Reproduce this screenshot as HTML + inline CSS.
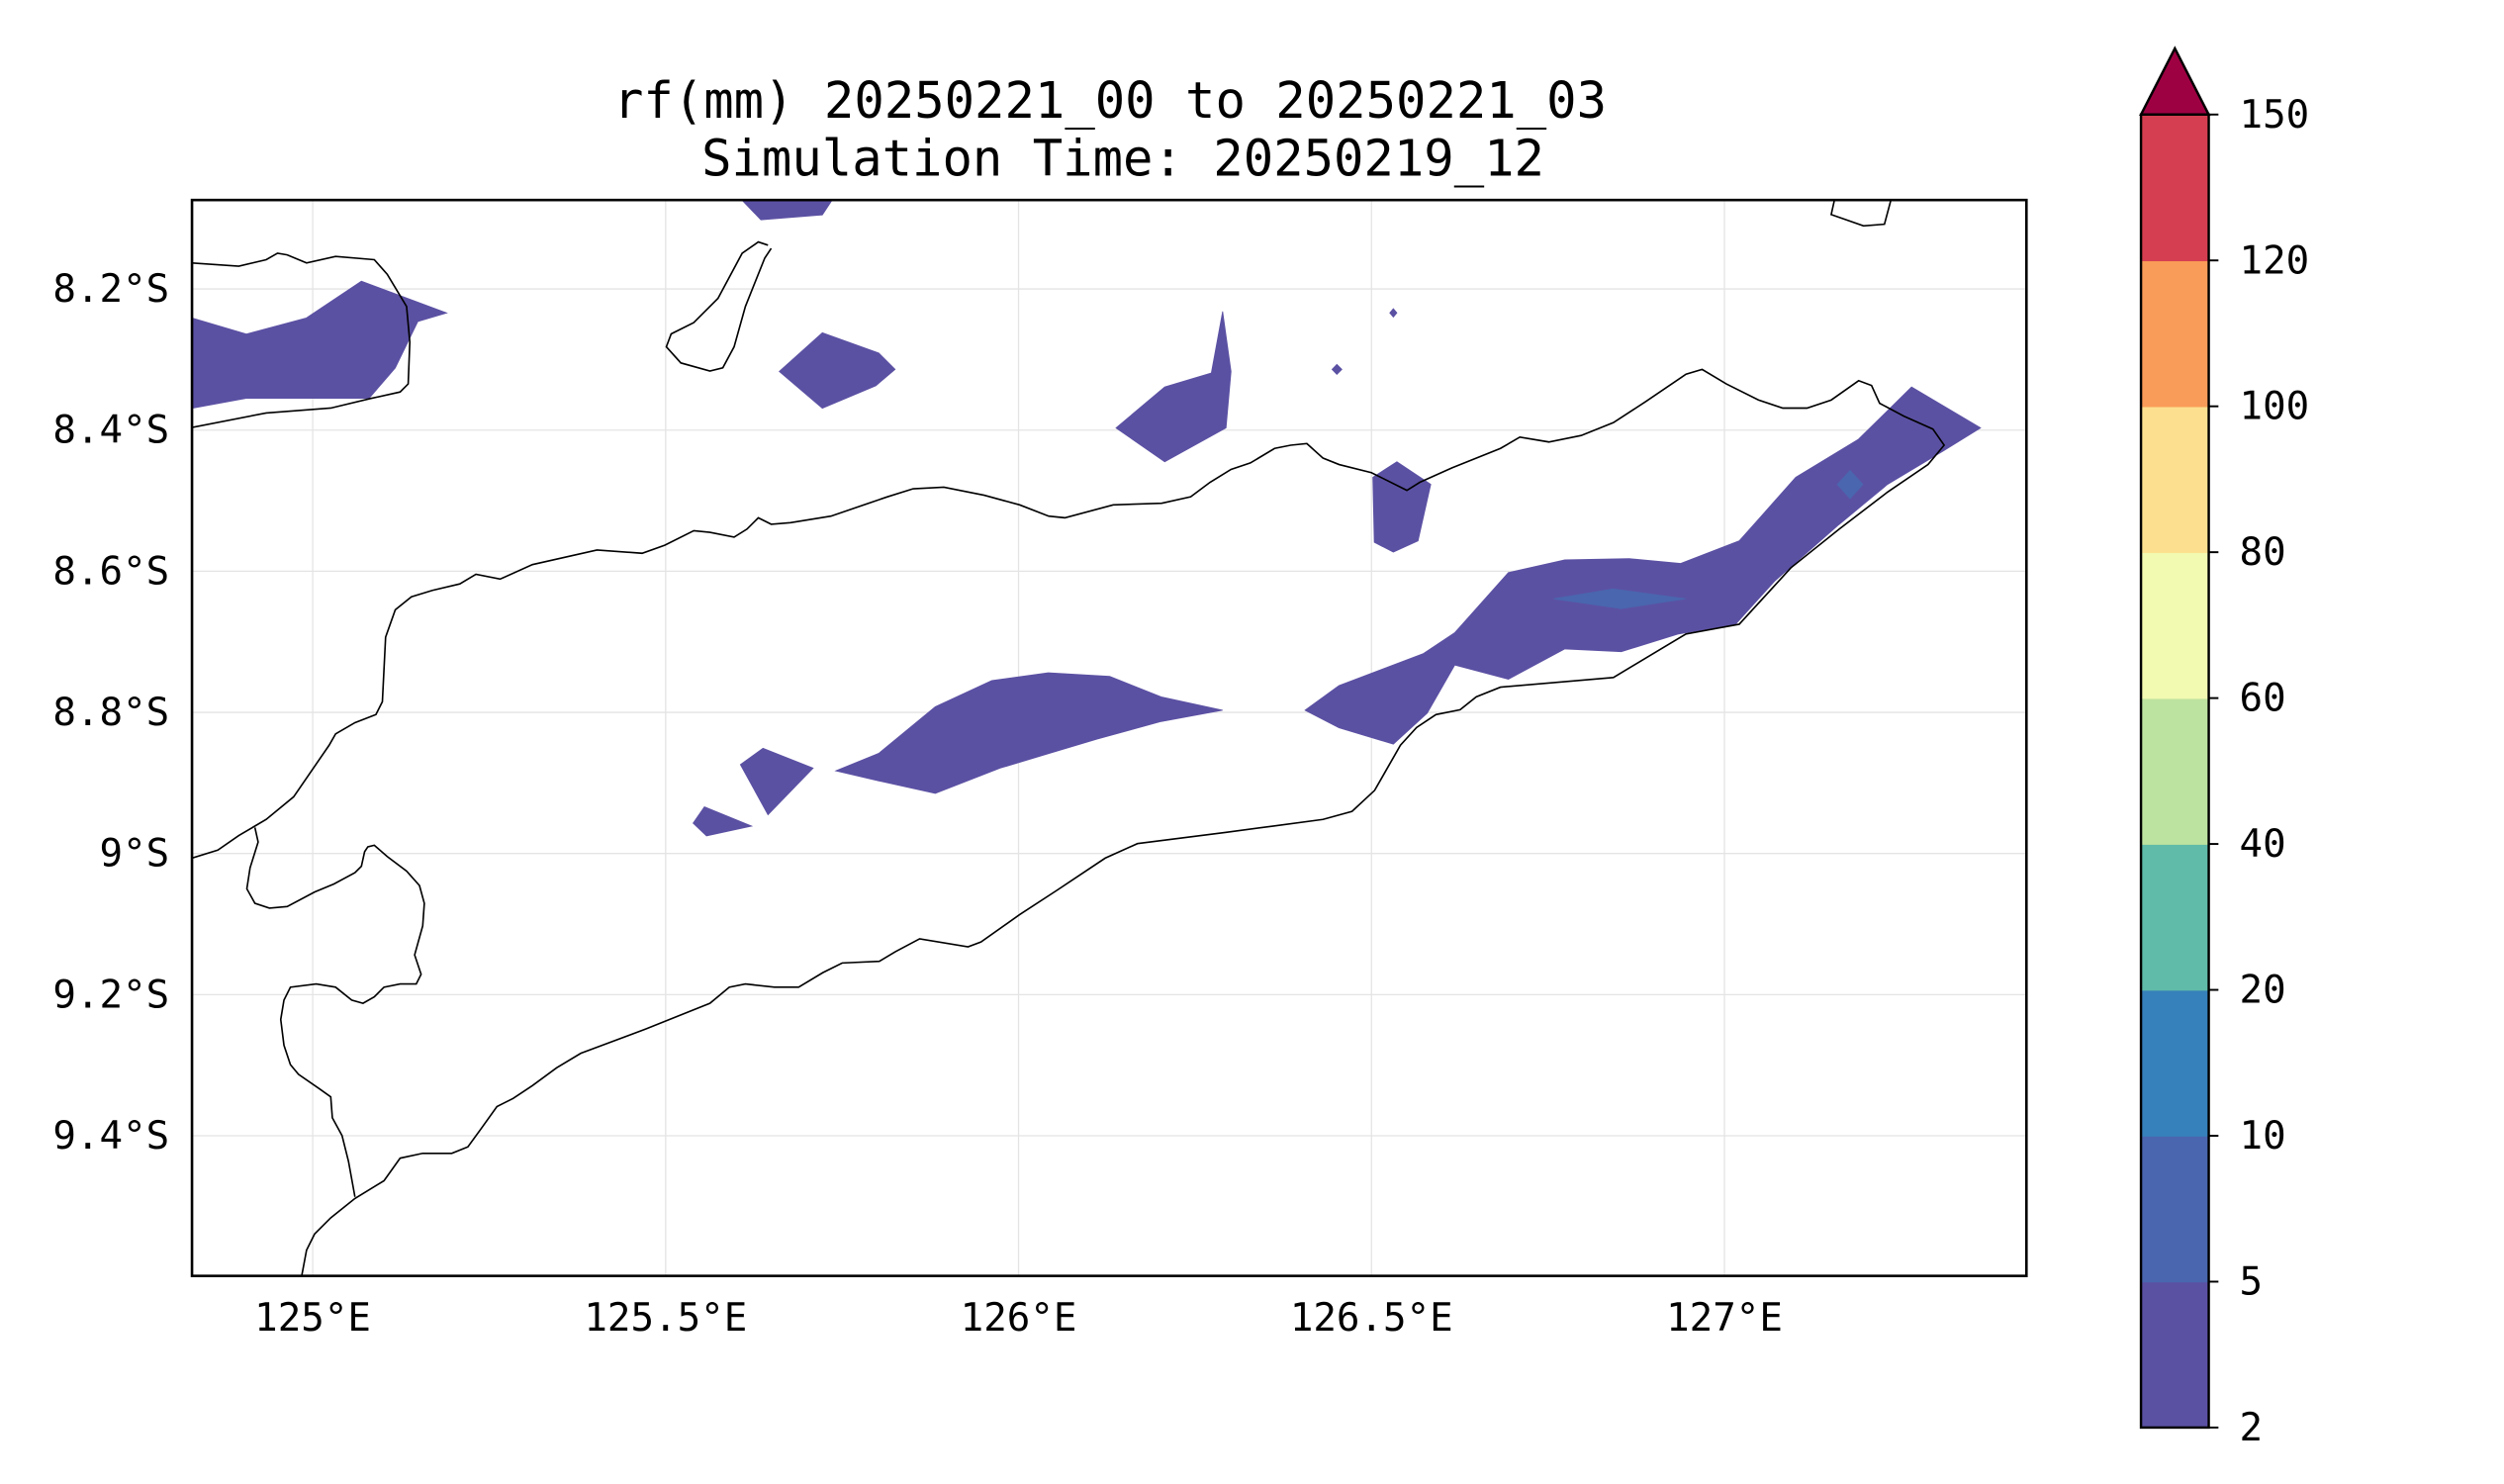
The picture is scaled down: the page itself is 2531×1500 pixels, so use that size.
<!DOCTYPE html>
<html><head><meta charset="utf-8"><style>
html,body{margin:0;padding:0;background:#fff}
svg{display:block}
text{font-family:"DejaVu Sans Mono","Liberation Mono",monospace;fill:#000}
</style></head><body>
<svg id="chart" width="2531" height="1500" viewBox="0 0 1552 920" preserveAspectRatio="none" xmlns="http://www.w3.org/2000/svg">
<rect width="1552" height="920" fill="#fff"/>
<text x="688" y="73" font-size="31" text-anchor="middle">rf(mm) 20250221_00 to 20250221_03</text>
<text x="696" y="109" font-size="31" text-anchor="middle">Simulation Time: 20250219_12</text>
<defs><clipPath id="clip"><rect x="119" y="124" width="1137" height="667"/></clipPath></defs>
<g id="grid"></g>
<g id="fills" clip-path="url(#clip)"></g>
<g id="coast" clip-path="url(#clip)"></g>
<rect x="119" y="124" width="1137" height="667" fill="none" stroke="#000" stroke-width="1.6"/>
<g id="axes"></g>
<g id="cbar"></g>
</svg>
<script>
const NS="http://www.w3.org/2000/svg";
const lonTicks=[125,125.5,126,126.5,127];
const lonLabels=["125°E","125.5°E","126°E","126.5°E","127°E"];
const latTicks=[8.2,8.4,8.6,8.8,9.0,9.2,9.4];
const latLabels=["8.2°S","8.4°S","8.6°S","8.8°S","9°S","9.2°S","9.4°S"];
const levels=[2,5,10,20,40,60,80,100,120,150];
const levelColors=["#5b51a3","#4a66ae","#3680bb","#60bba9","#bde3a0","#f2f9b0","#fce08f","#f99c59","#d53e50"];
const extendColor="#9e0142";
// contour polygons: [lon, lat(S)] pairs, level index
const blobWest=[[124.829,8.241],[124.906,8.264],[124.991,8.241],[125.069,8.189],[125.190,8.234],[125.149,8.246],[125.117,8.312],[125.080,8.355],[124.991,8.355],[124.906,8.355],[124.829,8.369]];
const blobTop=[[125.608,8.074],[125.736,8.074],[125.722,8.095],[125.635,8.102]];
const blobDiamond=[[125.661,8.317],[125.722,8.262],[125.802,8.291],[125.825,8.314],[125.798,8.337],[125.722,8.369]];
const blobSpike=[[126.138,8.397],[126.207,8.339],[126.273,8.319],[126.289,8.232],[126.301,8.317],[126.294,8.397],[126.207,8.445]];
const dotA=[[126.526,8.234],[126.531,8.228],[126.536,8.234],[126.531,8.240]];
const dotB=[[126.444,8.314],[126.451,8.307],[126.458,8.314],[126.451,8.321]];
const blobBay=[[126.502,8.467],[126.536,8.445],[126.584,8.477],[126.566,8.557],[126.531,8.573],[126.504,8.559]];
const bandEast=[[126.406,8.797],[126.454,8.762],[126.573,8.717],[126.618,8.687],[126.694,8.602],[126.774,8.584],[126.865,8.582],[126.938,8.589],[127.021,8.557],[127.101,8.467],[127.190,8.413],[127.265,8.339],[127.363,8.397],[127.311,8.429],[127.231,8.477],[127.162,8.534],[127.071,8.614],[127.016,8.675],[126.934,8.689],[126.854,8.714],[126.774,8.710],[126.694,8.753],[126.618,8.733],[126.579,8.801],[126.531,8.845],[126.454,8.822]];
const bandEastCore=[[126.758,8.639],[126.842,8.625],[126.945,8.639],[126.854,8.653]];
const bandEastCore2=[[127.160,8.477],[127.178,8.457],[127.196,8.477],[127.178,8.497]];
const bandMid=[[125.741,8.883],[125.802,8.858],[125.882,8.792],[125.962,8.755],[126.042,8.744],[126.129,8.749],[126.202,8.778],[126.289,8.797],[126.202,8.813],[126.111,8.838],[125.974,8.879],[125.882,8.915],[125.802,8.897]];
const blobSmall1=[[125.606,8.874],[125.638,8.851],[125.709,8.879],[125.645,8.945]];
const blobSmall2=[[125.539,8.957],[125.555,8.934],[125.622,8.961],[125.558,8.975]];
const polygons=[[blobWest,0],[blobTop,0],[blobDiamond,0],[blobSpike,0],[dotA,0],[dotB,0],[blobBay,0],[bandEast,0],[bandEastCore,1],[bandEastCore2,1],[bandMid,0],[blobSmall1,0],[blobSmall2,0]];

const X0=119,X1=1256,Y0=124,Y1=791,LON0=124.829,LAT0=8.074,PPD=437.5;
const xs=lon=>X0+(lon-LON0)*PPD;
const ys=lat=>Y0+(lat-LAT0)*PPD;
const CB_Y0=885,CB_Y1=71,CB_X=1327,CB_W=42;
const cy=i=>CB_Y0+(CB_Y1-CB_Y0)*i/(levels.length-1);

function mk(tag,attrs,parent){const e=document.createElementNS(NS,tag);for(const k in attrs)e.setAttribute(k,attrs[k]);parent.appendChild(e);return e;}
const grid=document.getElementById('grid'),axes=document.getElementById('axes');
lonTicks.forEach((v,i)=>{
  const l=mk('line',{x1:xs(v),x2:xs(v),y1:Y0,y2:Y1,stroke:'#e4e4e4','stroke-width':0.8},grid);
  
  
  const t=mk('text',{x:xs(v),y:825,'font-size':24,'text-anchor':'middle'},axes);t.textContent=lonLabels[i];
  
  
});
latTicks.forEach((v,i)=>{
  const l=mk('line',{x1:X0,x2:X1,y1:ys(v),y2:ys(v),stroke:'#e4e4e4','stroke-width':0.8},grid);
  
  
  const t=mk('text',{x:105,y:ys(v)+8,'font-size':24,'text-anchor':'end'},axes);t.textContent=latLabels[i];
  
  
});
const fills=document.getElementById('fills');
polygons.forEach(([pts,li])=>{
  const p=mk('polygon',{points:pts.map(q=>xs(q[0]).toFixed(1)+','+ys(q[1]).toFixed(1)).join(' '),fill:levelColors[li],stroke:levelColors[li],'stroke-width':0.5},fills);
  
  
});
// basemap coastline paths (display units)
const coastPaths=[
"119,163 148,165 165,161 172,157 178,158 190,163 208,159 232,161 240,170 252,190 254,212 253,238 248,243 230,247 205,253 165,256 119,265",
"476,152 470,150 460,157 445,185 430,200 416,207 413,215 422,225 440,230 448,228 455,215 462,190 474,160 478,154",
"1137,124 1135,133 1155,140 1168,139 1172,124",
"119,532 135,527 148,518 165,508 182,494 204,462 208,455 220,448 233,443 237,435 239,395 245,378 255,370 268,366 285,362 295,356 310,359 330,350 370,341 398,343 412,338 430,329 440,330 455,333 463,328 470,321 478,325 490,324 515,320 550,308 566,303 585,302 610,307 632,313 650,320 660,321 690,313 720,312 738,308 750,299 763,291 775,287 790,278 800,276 810,275 820,284 830,288 850,293 872,304 880,299 900,290 930,278 942,271 960,274 980,270 1000,262 1020,249 1045,232 1055,229 1070,238 1090,248 1105,253 1120,253 1135,248 1152,236 1160,239 1165,250 1180,258 1198,266 1205,276 1195,288 1170,305 1140,328 1110,352 1078,387 1045,393 1030,402 1000,420 930,426 915,432 905,440 890,443 878,451 868,462 860,476 852,490 838,503 820,508 790,512 760,516 705,523 685,532 655,552 632,567 608,584 600,587 570,582 555,590 545,596 522,597 510,603 495,612 480,612 462,610 452,612 440,622 400,638 360,653 345,662 330,673 318,681 308,686 298,700 290,711 280,715 262,715 248,718 238,732 220,743 205,755 195,765 190,775 187,791",
"158,513 160,522 155,538 153,551 158,560 167,563 178,562 195,553 207,548 220,541 224,537 226,528 228,525 232,524 240,531 252,540 260,549 263,560 262,574 257,592 261,604 258,610 248,610 238,612 232,618 225,622 218,620 208,612 196,610 180,612 176,620 174,632 176,648 180,660 185,666 198,675 205,680 206,693 212,704 216,720 220,742"];
const coast=document.getElementById('coast');
coastPaths.forEach(s=>{
  const p=mk('polyline',{points:s,fill:'none',stroke:'#000','stroke-width':1},coast);
  
  
});
// colorbar
const cb=document.getElementById('cbar');
levelColors.forEach((c,i)=>{
  const r=mk('rect',{x:CB_X,y:cy(i+1),width:CB_W,height:cy(i)-cy(i+1)+0.5,fill:c},cb);
  
  
});
const tri=mk('polygon',{points:`${CB_X},${CB_Y1} ${CB_X+CB_W/2},30 ${CB_X+CB_W},${CB_Y1}`,fill:extendColor,stroke:'#000','stroke-width':1.5},cb);


const fr=mk('rect',{x:CB_X,y:CB_Y1,width:CB_W,height:CB_Y0-CB_Y1,fill:'none',stroke:'#000','stroke-width':1.5},cb);


levels.forEach((v,i)=>{
  mk('line',{x1:CB_X+CB_W,x2:CB_X+CB_W+6,y1:cy(i),y2:cy(i),stroke:'#000','stroke-width':1.2},cb);
  const t=mk('text',{x:1388,y:cy(i)+8,'font-size':24},cb);t.textContent=v;
  
  
});
</script>
</body></html>
